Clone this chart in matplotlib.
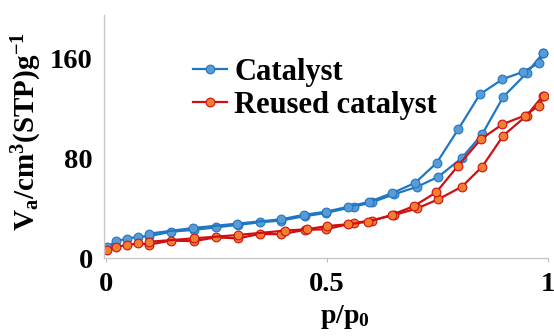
import matplotlib
matplotlib.use("Agg")
import matplotlib.pyplot as plt

plt.rcParams['font.family'] = ['Liberation Serif', 'DejaVu Serif']
plt.rcParams['font.weight'] = 'bold'
plt.rcParams['mathtext.fontset'] = 'custom'
plt.rcParams['mathtext.rm'] = 'Liberation Serif:bold'
plt.rcParams['mathtext.bf'] = 'Liberation Serif:bold'
plt.rcParams['mathtext.it'] = 'Liberation Serif:bold'

# Catalyst – adsorption branch
cat_ads_x = [0.002, 0.023, 0.048, 0.073, 0.098, 0.147, 0.198, 0.249, 0.298, 0.348, 0.397, 0.450,
             0.498, 0.560, 0.601, 0.652, 0.704, 0.752, 0.805, 0.851, 0.899, 0.952, 0.989]
cat_ads_y = [8.5, 13.5, 15.5, 17.0, 17.5, 21.0, 22.5, 24.5, 26.5, 28.5, 30.0, 33.5,
             36.0, 41.0, 44.5, 51.0, 57.0, 65.0, 80.0, 99.0, 129.0, 148.0, 164.0]
# Catalyst – desorption branch
cat_des_x = [0.989, 0.980, 0.944, 0.897, 0.846, 0.797, 0.748, 0.699, 0.648, 0.596, 0.548, 0.497,
             0.447, 0.397, 0.297, 0.197, 0.098]
cat_des_y = [164.0, 156.0, 149.0, 143.0, 131.0, 103.0, 76.0, 60.0, 52.0, 45.0, 41.0, 37.0,
             34.5, 31.0, 27.5, 24.0, 19.5]

# Reused catalyst – adsorption branch
reu_ads_x = cat_ads_x
reu_ads_y = [6.4, 9.0, 10.4, 11.7, 10.8, 13.9, 13.5, 16.5, 15.7, 19.2, 19.0, 22.5,
             23.0, 28.0, 30.0, 34.4, 39.7, 47.0, 57.0, 73.0, 98.0, 114.0, 130.0]
# Reused catalyst – desorption branch
reu_des_x = [0.992, 0.980, 0.948, 0.897, 0.848, 0.797, 0.747, 0.697, 0.646, 0.593, 0.548, 0.501,
             0.454, 0.405, 0.298, 0.198, 0.098]
reu_des_y = [130.0, 122.0, 114.0, 107.0, 95.0, 74.0, 52.5, 41.6, 34.4, 29.0, 27.0, 25.6,
             23.0, 21.9, 18.4, 15.7, 13.0]

xticks = [0, 0.5, 1]
xticklabels = ['0', '0.5', '1']
yticks = [0, 80, 160]
yticklabels = ['0', '80', '160']

W, H = 554, 336
fig = plt.figure(figsize=(W / 100, H / 100), dpi=100)
ax = fig.add_axes([104 / W, (H - 258) / H, 444 / W, (258 - 15) / H])

blue_line = '#1F77C4'
blue_face = '#5B9BD5'
red_line = '#D01010'
red_face = '#F07F32'

common = dict(marker='o', markersize=6.3, linewidth=1.6, markeredgewidth=0.8)
ax.plot(cat_ads_x, cat_ads_y, color=blue_line, markerfacecolor=blue_face,
        markeredgecolor=blue_line, label='Catalyst', **common)
ax.plot(cat_des_x, cat_des_y, color=blue_line, markerfacecolor=blue_face,
        markeredgecolor=blue_line, **common)
ax.plot(reu_ads_x, reu_ads_y, color=red_line, markerfacecolor=red_face,
        markeredgecolor=red_line, label='Reused catalyst', **common)
ax.plot(reu_des_x, reu_des_y, color=red_line, markerfacecolor=red_face,
        markeredgecolor=red_line, **common)

ax.set_xlim(-0.0045, 1.0)
ax.set_ylim(0, 194.4)
ax.set_xticks(xticks)
ax.set_xticklabels(xticklabels, fontsize=20.5, fontweight='bold')
ax.set_yticks(yticks)
ax.set_yticklabels(yticklabels, fontsize=20.5, fontweight='bold')
ax.tick_params(axis='x', length=3, color='#BFBFBF', pad=7)
ax.tick_params(axis='y', length=0, pad=8)

for s in ['top', 'right']:
    ax.spines[s].set_visible(False)
for s in ['left', 'bottom']:
    ax.spines[s].set_color('#C8C8C8')
    ax.spines[s].set_linewidth(1.0)

ax.set_xlabel(r'$\mathbf{p/p_0}$', fontsize=20)
ax.xaxis.set_label_coords((345 - 104) / 444, -(303 - 258) / 243)
ax.set_ylabel(r'$\mathbf{V_a/cm^3(STP)g^{-1}}$', fontsize=21)
ax.yaxis.set_label_coords(-(104 - 44) / 444, (258 - 132) / 243)

leg = ax.legend(loc='upper left', bbox_to_anchor=(193 / W, (H - 58) / H),
                bbox_transform=fig.transFigure, frameon=False, fontsize=22,
                handlelength=1.1, handletextpad=0.25, labelspacing=0.12, borderpad=0,
                borderaxespad=0)
for t in leg.get_texts():
    t.set_fontweight('bold')

fig.savefig('out.png', dpi=100)
